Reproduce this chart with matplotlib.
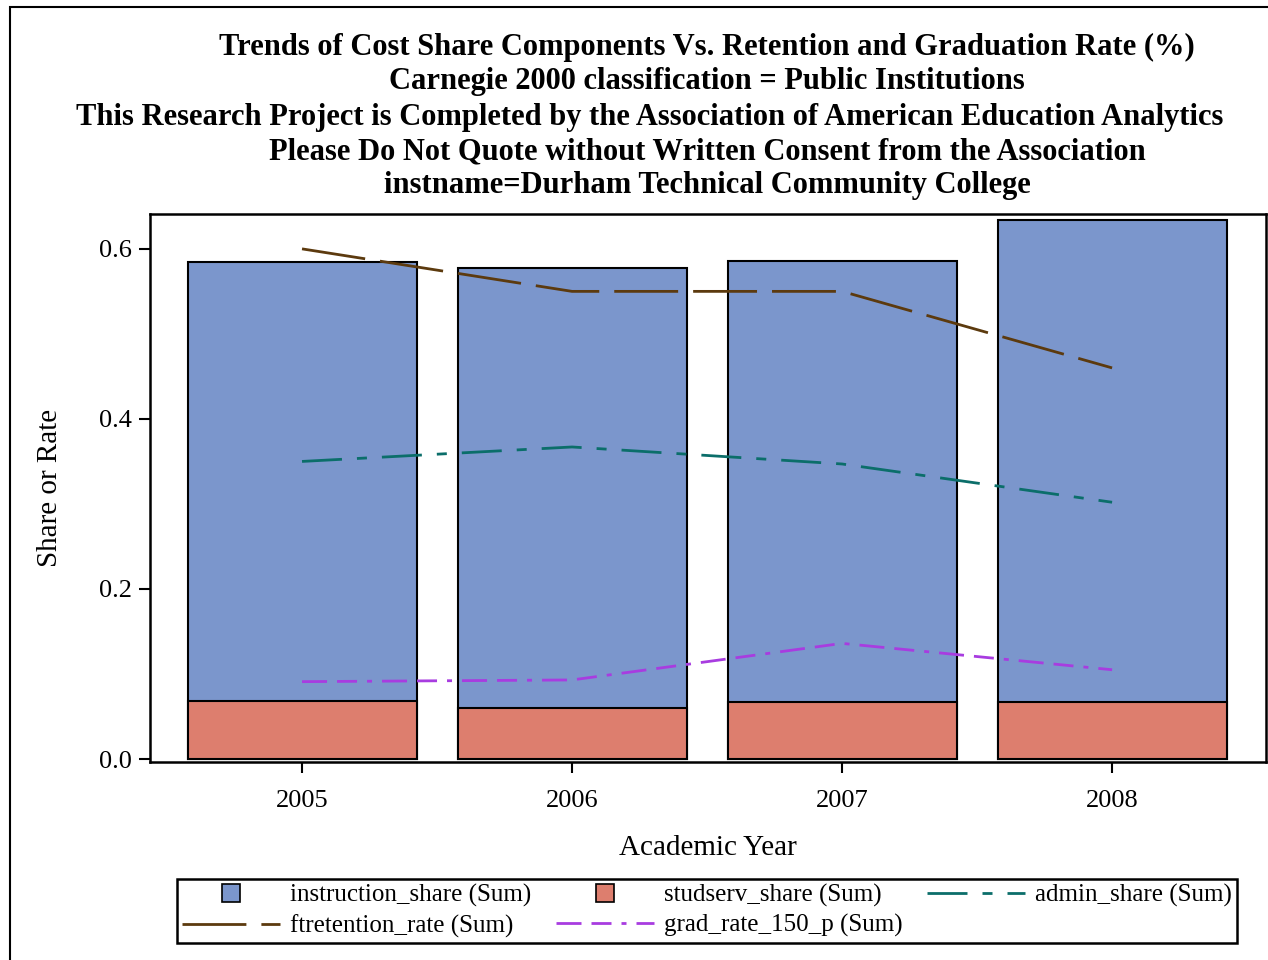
import matplotlib
matplotlib.use('Agg')
import matplotlib.pyplot as plt
from matplotlib.patches import Rectangle
from matplotlib.lines import Line2D

plt.rcParams['font.family'] = ['Liberation Serif', 'DejaVu Serif']

anos = [2005, 2006, 2007, 2008]
instruction_share = [0.585, 0.577, 0.586, 0.634]
studserv_share = [0.068, 0.060, 0.067, 0.067]
admin_share = [0.350, 0.367, 0.347, 0.302]
ftretention_rate = [0.600, 0.550, 0.550, 0.460]
grad_rate_150_p = [0.091, 0.093, 0.136, 0.105]

titulos = ["Trends of Cost Share Components Vs. Retention and Graduation Rate (%)",
           "Carnegie 2000 classification = Public Institutions",
           "This Research Project is Completed by the Association of American Education Analytics",
           "Please Do Not Quote without Written Consent from the Association",
           "instname=Durham Technical Community College"]

W, H = 1268, 960
fig = plt.figure(figsize=(W / 100, H / 100), dpi=100)
ax = fig.add_axes([150/W, 1 - 762/H, (1266-150)/W, (762-214)/H])

# borda externa
fig.patches.append(Rectangle((10/W, -0.01), 1.2, 1 - 7/H + 0.01, transform=fig.transFigure,
                             fill=False, edgecolor='black', linewidth=1.5))

azul = '#7B96CC'
vermelho = '#DD7E6E'
marrom = '#5C3A0E'
verde = '#0B6E6A'
roxo = '#A83CE0'

ax.bar(anos, instruction_share, width=0.848, color=azul, edgecolor='black', linewidth=1.5)
ax.bar(anos, studserv_share, width=0.848, color=vermelho, edgecolor='black', linewidth=1.5)

lw = 2
ls_ret = (0, (23, 5.4))
ls_adm = (0, (14.4, 5.4, 3.6, 5.4))
ls_grad = (0, (9, 3.6, 7.2, 3.6, 1.8, 3.6))
ax.plot(anos, ftretention_rate, color=marrom, linewidth=lw, linestyle=ls_ret)
ax.plot(anos, admin_share, color=verde, linewidth=lw, linestyle=ls_adm)
ax.plot(anos, grad_rate_150_p, color=roxo, linewidth=lw, linestyle=ls_grad)

ax.set_xlim(2005 - 0.563, 2008 + 0.57)
ax.set_ylim(-0.0035, 0.641)
ax.set_xticks(anos)
ax.set_xticklabels([str(a) for a in anos])
ax.set_yticks([0.0, 0.2, 0.4, 0.6])
ax.set_yticklabels(["0.0", "0.2", "0.4", "0.6"])
ax.tick_params(labelsize=19, length=8, width=1.5)
ax.tick_params(axis='x', pad=12)
ax.tick_params(axis='y', pad=5)
for s in ax.spines.values():
    s.set_linewidth(1.8)

fig.text(708/W, 1 - 848/H, "Academic Year", ha='center', va='center', fontsize=21)
fig.text(50/W, 1 - 488/H, "Share or Rate", ha='center', va='center', fontsize=21, rotation=90)

ys = [47, 82, 117, 152, 186]
xs = [707, 707, 650, 707, 707]
for t, x, y in zip(titulos, xs, ys):
    fig.text(x/W, 1 - y/H, t, ha='center', va='center', fontsize=22, fontweight='bold')

# ordem coluna a coluna para ficar igual ao original (linha a linha)
handles = [Line2D([], [], marker='s', markersize=13, markerfacecolor=azul,
                  markeredgecolor='black', markeredgewidth=1.2, linestyle='None'),
           Line2D([], [], color=marrom, linewidth=lw, linestyle=ls_ret),
           Line2D([], [], marker='s', markersize=13, markerfacecolor=vermelho,
                  markeredgecolor='black', markeredgewidth=1.2, linestyle='None'),
           Line2D([], [], color=roxo, linewidth=lw, linestyle=ls_grad),
           Line2D([], [], color=verde, linewidth=lw, linestyle=ls_adm)]
labels = ["instruction_share (Sum)", "ftretention_rate (Sum)", "studserv_share (Sum)",
          "grad_rate_150_p (Sum)", "admin_share (Sum)"]
leg = fig.legend(handles, labels, ncol=3, loc='center',
                 bbox_to_anchor=(707/W, 1 - 911/H), fontsize=18, frameon=True,
                 fancybox=False, edgecolor='black', handlelength=3.9, columnspacing=1.0,
                 handletextpad=0.4, borderpad=0.22, labelspacing=0.28, framealpha=1)
leg.get_frame().set_linewidth(1.8)

plt.savefig("out.png", dpi=100)
